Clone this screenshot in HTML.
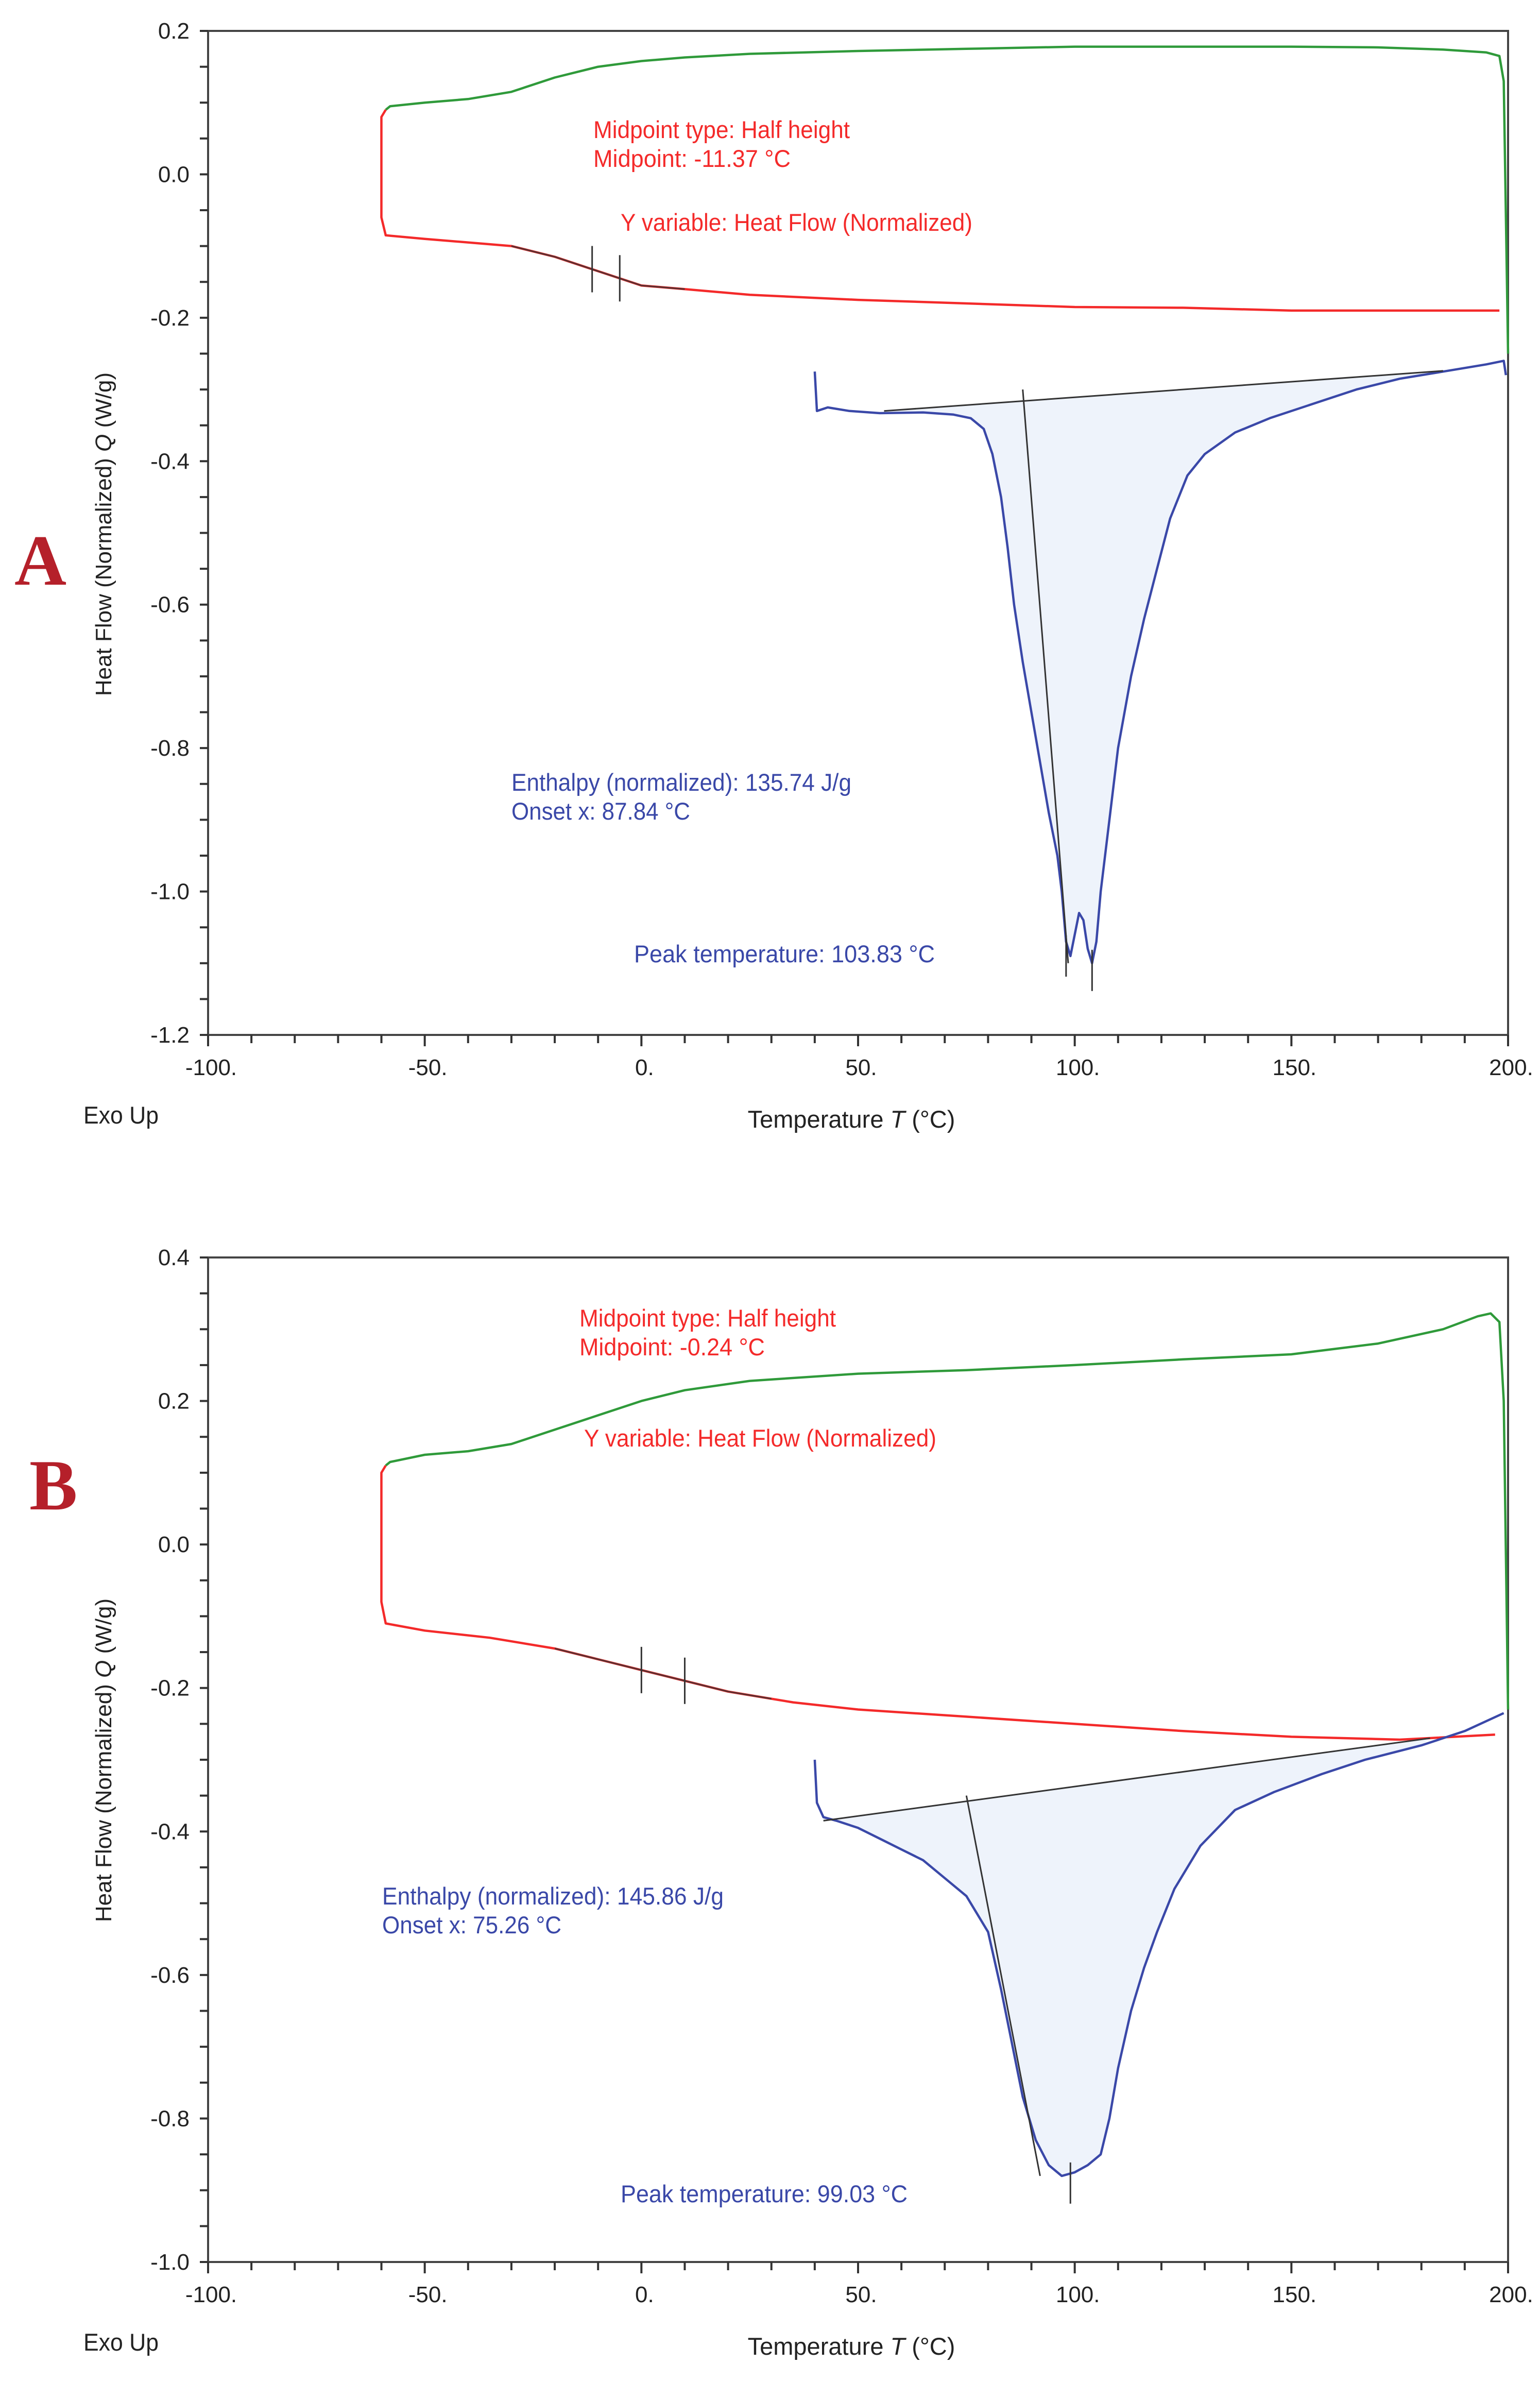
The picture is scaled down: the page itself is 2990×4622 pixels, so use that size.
<!DOCTYPE html>
<html><head><meta charset="utf-8"><style>
html,body{margin:0;padding:0;background:#fff}
svg{display:block}
text{font-family:"Liberation Sans",sans-serif}
</style></head><body>
<svg id="chart" xmlns="http://www.w3.org/2000/svg" width="2990" height="4622" viewBox="0 0 2990 4622"></svg>
<script>
// ---------- Panel A data ----------
const aGreenT = [-59,-58,-50,-40,-30,-20,-10,0,10,25,50,75,100,125,150,170,185,195,198,199,200];
const aGreenQ = [0.09,0.095,0.10,0.105,0.115,0.135,0.15,0.158,0.163,0.168,0.172,0.175,0.178,0.178,0.178,0.177,0.174,0.17,0.165,0.13,-0.25];
const aRedT = [-59,-60,-60,-59,-50,-30,-20,-10,0,10,25,50,75,100,125,150,175,198];
const aRedQ = [0.09,0.08,-0.06,-0.085,-0.09,-0.10,-0.115,-0.135,-0.155,-0.16,-0.168,-0.175,-0.18,-0.185,-0.186,-0.19,-0.19,-0.19];
const aFitT = [-30,-20,-10,0,10];
const aFitQ = [-0.10,-0.115,-0.135,-0.155,-0.16];
const aMidTicks = [-11.37,-5];
const aBlueT = [40,40.5,43,48,55,65,72,76,79,81,83,84.5,86,88,90,92,94,96,97,98,99,100,101,102,103,104,105,106,108,110,113,116,119,122,126,130,137,145,155,165,175,185,195,199,199.5];
const aBlueQ = [-0.275,-0.33,-0.325,-0.33,-0.333,-0.332,-0.335,-0.34,-0.355,-0.39,-0.45,-0.52,-0.6,-0.68,-0.75,-0.82,-0.89,-0.95,-1.0,-1.07,-1.09,-1.06,-1.03,-1.04,-1.08,-1.1,-1.07,-1.0,-0.9,-0.8,-0.7,-0.62,-0.55,-0.48,-0.42,-0.39,-0.36,-0.34,-0.32,-0.3,-0.285,-0.275,-0.265,-0.26,-0.28];
const aBaseT = [56,185];
const aBaseQ = [-0.33,-0.274];
const aOnsetT = [88,98.5];
const aOnsetQ = [-0.3,-1.1];
const aPeakT = [98,104];
const aPeakQ = [-1.09,-1.11];
// ---------- Panel B data ----------
const bGreenT = [-59,-58,-50,-40,-30,-20,-10,0,10,25,50,75,100,125,150,170,185,193,196,198,199,200];
const bGreenQ = [0.11,0.115,0.125,0.13,0.14,0.16,0.18,0.2,0.215,0.228,0.238,0.243,0.25,0.258,0.265,0.28,0.3,0.318,0.322,0.31,0.2,-0.23];
const bRedT = [-59,-60,-60,-59,-50,-35,-20,-10,0,10,20,35,50,75,100,125,150,175,197];
const bRedQ = [0.11,0.1,-0.08,-0.11,-0.12,-0.13,-0.145,-0.16,-0.175,-0.19,-0.205,-0.22,-0.23,-0.24,-0.25,-0.26,-0.268,-0.272,-0.265];
const bFitT = [-20,-10,0,10,20,30];
const bFitQ = [-0.145,-0.16,-0.175,-0.19,-0.205,-0.215];
const bMidTicks = [0,10];
const bBlueT = [40,40.5,42,45,50,55,60,65,70,75,80,83,85,88,91,94,97,100,103,106,108,110,113,116,119,123,129,137,146,157,167,180,190,199];
const bBlueQ = [-0.3,-0.36,-0.38,-0.385,-0.395,-0.41,-0.425,-0.44,-0.465,-0.49,-0.54,-0.62,-0.68,-0.77,-0.83,-0.865,-0.88,-0.875,-0.865,-0.85,-0.8,-0.73,-0.65,-0.59,-0.54,-0.48,-0.42,-0.37,-0.345,-0.32,-0.3,-0.28,-0.26,-0.235];
const bBaseT = [42,182];
const bBaseQ = [-0.385,-0.27];
const bOnsetT = [75,92];
const bOnsetQ = [-0.35,-0.88];
const bPeakT = [99];
const bPeakQ = [-0.89];
// ---------- Axes ----------
const xTicks = [-100,-50,0,50,100,150,200];
const xTickLabels = ["-100.","-50.","0.","50.","100.","150.","200."];
const aYTicks = [0.2,0.0,-0.2,-0.4,-0.6,-0.8,-1.0,-1.2];
const aYLabels = ["0.2","0.0","-0.2","-0.4","-0.6","-0.8","-1.0","-1.2"];
const bYTicks = [0.4,0.2,0.0,-0.2,-0.4,-0.6,-0.8,-1.0];
const bYLabels = ["0.4","0.2","0.0","-0.2","-0.4","-0.6","-0.8","-1.0"];

const NS="http://www.w3.org/2000/svg";
const svg=document.getElementById('chart');
function el(tag,attrs,parent){const e=document.createElementNS(NS,tag);for(const k in attrs)e.setAttribute(k,attrs[k]);(parent||svg).appendChild(e);return e;}

function panel(cfg){
  const L=404,R=2928,T=cfg.top,B=cfg.bottom;
  const x=v=>L+(v+100)/300*(R-L);
  const y=v=>T+(cfg.ymax-v)/(cfg.ymax-cfg.ymin)*(B-T);
  const g=el('g',{});
  
  
  const pts=(ts,qs)=>ts.map((t,i)=>x(t).toFixed(1)+','+y(qs[i]).toFixed(1)).join(' ');
  // fill area between blue and baseline
  const b0=cfg.baseT[0],b1=cfg.baseT[1];
  const baseAt=t=>cfg.baseQ[0]+(t-b0)/(b1-b0)*(cfg.baseQ[1]-cfg.baseQ[0]);
  let fp=[];
  cfg.blueT.forEach((t,i)=>{if(t>=b0&&t<=b1)fp.push(x(t).toFixed(1)+','+y(cfg.blueQ[i]).toFixed(1));});
  fp.push(x(b1)+','+y(baseAt(b1)));fp.unshift(x(b0)+','+y(baseAt(b0)));
  const fill=el('polygon',{points:fp.join(' '),fill:'#eef3fb',stroke:'none'},g);
  
  
  // axes box
  const box=el('rect',{x:L,y:T,width:R-L,height:B-T,fill:'none',stroke:'#444',"stroke-width":4},g);
  
  
  // ticks
  for(let v=-100;v<=200;v+=10){const len=(v%50===0)?22:16;el('line',{x1:x(v),x2:x(v),y1:B,y2:B+len,stroke:'#333',"stroke-width":4},g);}
  for(let k=0;k<=28;k++){const v=cfg.ymax-k*0.05;el('line',{x1:L-16,x2:L,y1:y(v),y2:y(v),stroke:'#333',"stroke-width":4},g);}
  xTicks.forEach((v,i)=>{const t=el('text',{x:x(v)+6,y:B+78,"font-size":44,"text-anchor":"middle",fill:'#222'},g);t.textContent=xTickLabels[i];
    
    });
  cfg.yTicks.forEach((v,i)=>{const t=el('text',{x:L-36,y:y(v)+15,"font-size":44,"text-anchor":"end",fill:'#222'},g);t.textContent=cfg.yLabels[i];
    
    });
  // curves
  const gr=el('polyline',{points:pts(cfg.greenT,cfg.greenQ),fill:'none',stroke:'#2f9a3a',"stroke-width":4.5,"stroke-linejoin":"round"},g);
  
  
  const rd=el('polyline',{points:pts(cfg.redT,cfg.redQ),fill:'none',stroke:'#f42a2a',"stroke-width":4.5,"stroke-linejoin":"round"},g);
  
  
  const ft=el('polyline',{points:pts(cfg.fitT,cfg.fitQ),fill:'none',stroke:'#333',"stroke-width":3,opacity:0.8},g);
  
  
  cfg.midTicks.forEach(t=>{const q=cfg.fitQ[0]+0;const yy=y(interp(cfg.redT.slice(3),cfg.redQ.slice(3),t));el('line',{x1:x(t),x2:x(t),y1:yy-45,y2:yy+45,stroke:'#333',"stroke-width":3},g);});
  const bl=el('polyline',{points:pts(cfg.blueT,cfg.blueQ),fill:'none',stroke:'#3a48a8',"stroke-width":4.5,"stroke-linejoin":"round"},g);
  
  
  const bs=el('polyline',{points:pts(cfg.baseT,cfg.baseQ),fill:'none',stroke:'#333',"stroke-width":3},g);
  
  
  const on=el('polyline',{points:pts(cfg.onsetT,cfg.onsetQ),fill:'none',stroke:'#333',"stroke-width":3},g);
  
  
  cfg.peakT.forEach((t,i)=>{el('line',{x1:x(t),x2:x(t),y1:y(cfg.peakQ[i])-40,y2:y(cfg.peakQ[i])+40,stroke:'#333',"stroke-width":3},g);});
  // annotations
  cfg.notes.forEach(n=>{const t=el('text',{x:n[0],y:n[1],"font-size":47,fill:n[3],textLength:n[4],lengthAdjust:'spacingAndGlyphs'},g);t.textContent=n[2];
    
    });
  // axis titles
  const yt=el('text',{x:0,y:0,"font-size":44,"text-anchor":"middle",fill:'#222',transform:`translate(${216},${cfg.ytitleY}) rotate(-90)`},g);
  yt.innerHTML='Heat Flow (Normalized)  <tspan font-style="italic">Q</tspan>  (W/g)';
  
  
  const xt=el('text',{x:1653,y:B+180,"font-size":47,"text-anchor":"middle",fill:'#222'},g);
  xt.innerHTML='Temperature  <tspan font-style="italic">T</tspan>  (°C)';
  
  
  const ex=el('text',{x:162,y:B+172,"font-size":47,fill:'#222',textLength:146,lengthAdjust:'spacingAndGlyphs'},g);
  ex.textContent='Exo Up';
  
  
  const pl=el('text',{x:cfg.letterX,y:cfg.letterY,"font-size":140,"font-weight":"bold",fill:'#b5202a',style:'font-family:"Liberation Serif",serif'},g);
  pl.textContent=cfg.letter;
  
  
}
function interp(ts,qs,t){for(let i=0;i<ts.length-1;i++){if(t>=ts[i]&&t<=ts[i+1]){return qs[i]+(t-ts[i])/(ts[i+1]-ts[i])*(qs[i+1]-qs[i]);}}return qs[0];}

panel({name:'panel-a',top:60,bottom:2009,ymax:0.2,ymin:-1.2,yTicks:aYTicks,yLabels:aYLabels,
  greenT:aGreenT,greenQ:aGreenQ,redT:aRedT,redQ:aRedQ,fitT:aFitT,fitQ:aFitQ,midTicks:aMidTicks,
  blueT:aBlueT,blueQ:aBlueQ,baseT:aBaseT,baseQ:aBaseQ,onsetT:aOnsetT,onsetQ:aOnsetQ,peakT:aPeakT,peakQ:aPeakQ,
  ytitleY:1037,letter:'A',letterX:28,letterY:1135,
  notes:[[1152,268,'Midpoint type: Half height','#f42a2a',498,'midpoint-type-note'],
         [1152,324,'Midpoint: -11.37 °C','#f42a2a',383,'midpoint-note'],
         [1205,448,'Y variable: Heat Flow (Normalized)','#f42a2a',683,'y-variable-note'],
         [993,1535,'Enthalpy (normalized): 135.74 J/g','#3a48a8',660,'enthalpy-note'],
         [993,1591,'Onset x: 87.84 °C','#3a48a8',347,'onset-note'],
         [1231,1868,'Peak temperature: 103.83 °C','#3a48a8',584,'peak-temperature-note']]});
panel({name:'panel-b',top:2441,bottom:4391,ymax:0.4,ymin:-1.0,yTicks:bYTicks,yLabels:bYLabels,
  greenT:bGreenT,greenQ:bGreenQ,redT:bRedT,redQ:bRedQ,fitT:bFitT,fitQ:bFitQ,midTicks:bMidTicks,
  blueT:bBlueT,blueQ:bBlueQ,baseT:bBaseT,baseQ:bBaseQ,onsetT:bOnsetT,onsetQ:bOnsetQ,peakT:bPeakT,peakQ:bPeakQ,
  ytitleY:3417,letter:'B',letterX:57,letterY:2930,
  notes:[[1125,2575,'Midpoint type: Half height','#f42a2a',498,'midpoint-type-note'],
         [1125,2631,'Midpoint: -0.24 °C','#f42a2a',360,'midpoint-note'],
         [1134,2808,'Y variable: Heat Flow (Normalized)','#f42a2a',684,'y-variable-note'],
         [742,3697,'Enthalpy (normalized): 145.86 J/g','#3a48a8',663,'enthalpy-note'],
         [742,3753,'Onset x: 75.26 °C','#3a48a8',348,'onset-note'],
         [1205,4275,'Peak temperature: 99.03 °C','#3a48a8',557,'peak-temperature-note']]});
</script>
</body></html>
